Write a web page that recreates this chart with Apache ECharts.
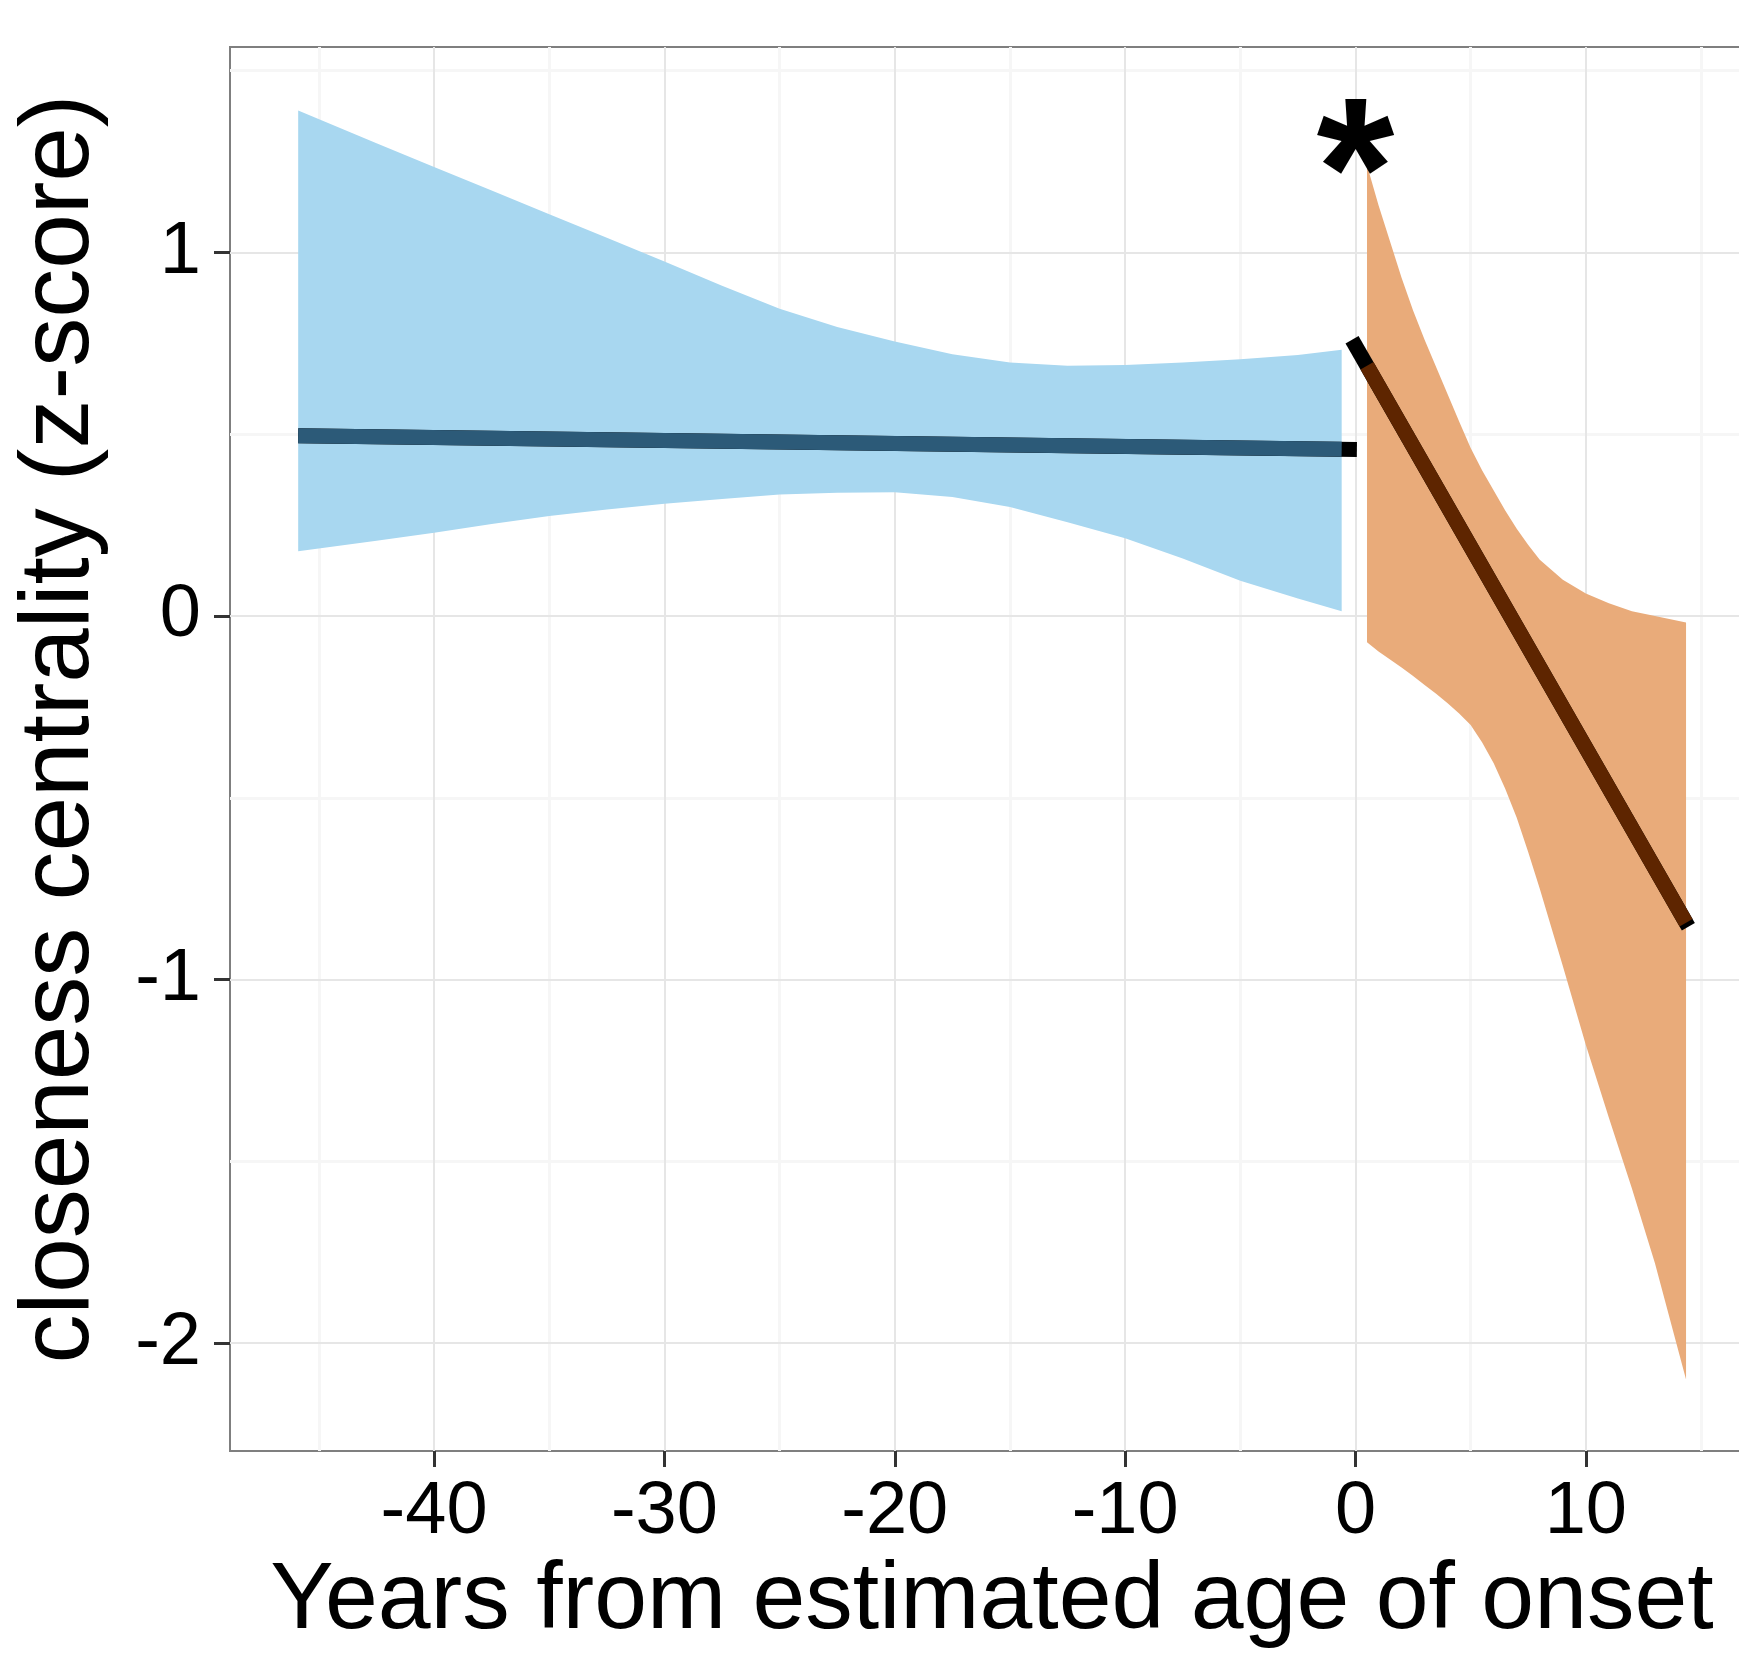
<!DOCTYPE html>
<html>
<head>
<meta charset="utf-8">
<script src="https://cdn.jsdelivr.net/npm/echarts@6/dist/echarts.min.js"></script>
<style>
  html, body { margin: 0; padding: 0; background: #fff; overflow: hidden; }
  #chart { width: 1770px; height: 1654px; }
</style>
</head>
<body>
<div id="chart"></div>
<script>
// Confidence band before onset (years from onset, upper / lower bound)
const preX     = [-45.9, -42.5, -40, -37.5, -35, -32.5, -30, -27.5, -25, -22.5, -20, -17.5, -15, -12.5, -10, -7.5, -5, -2.5, -0.6];
const preUpper = [1.39, 1.30, 1.235, 1.17, 1.105, 1.04, 0.975, 0.908, 0.845, 0.795, 0.755, 0.72, 0.697, 0.688, 0.69, 0.697, 0.706, 0.718, 0.732];
const preLower = [0.178, 0.207, 0.229, 0.253, 0.275, 0.293, 0.309, 0.322, 0.334, 0.339, 0.340, 0.327, 0.300, 0.258, 0.214, 0.158, 0.097, 0.048, 0.013];

// Confidence band after onset
const postX     = [0.5, 1, 1.5, 2, 2.5, 3, 3.5, 4, 4.5, 5, 5.5, 6, 6.5, 7, 7.5, 8, 9, 10, 11, 12, 13, 14.35];
const postUpper = [1.24, 1.13, 1.03, 0.93, 0.84, 0.76, 0.685, 0.61, 0.535, 0.462, 0.40, 0.345, 0.29, 0.24, 0.195, 0.155, 0.10, 0.062, 0.035, 0.013, 0.0, -0.018];
const postLower = [-0.072, -0.098, -0.12, -0.142, -0.165, -0.19, -0.214, -0.24, -0.268, -0.30, -0.348, -0.405, -0.475, -0.555, -0.65, -0.75, -0.963, -1.18, -1.38, -1.575, -1.78, -2.10];

// Fitted lines (dark underlay spans a little further than the coloured stroke)
const preFitX  = [-45.9, 0.06];
const preFitY  = [0.496, 0.458];
const preLineX = [-45.9, -0.6];
const preLineY = [0.496, 0.4585];
const postFitX  = [-0.15, 14.45];
const postFitY  = [0.76, -0.855];
const postLineX = [0.5, 14.35];
const postLineY = [0.688, -0.844];

// Significance marker
const starPos = [0, 1.325];

// Axis ticks and grid
const xTicks = [-40, -30, -20, -10, 0, 10];
const xMinor = [-45, -35, -25, -15, -5, 5, 15];
const yTicks = [-2, -1, 0, 1];
const yMinor = [-1.5, -0.5, 0.5, 1.5];

const FONT = "'Liberation Sans', Arial, Helvetica, sans-serif";
const pairs = (xs, ys) => xs.map((x, i) => [x, ys[i]]);

function bandSeries(xs, up, lo, color) {
  const data = xs.map((x, i) => [x, up[i], lo[i]]);
  return {
    type: 'custom',
    z: 3,
    silent: true,
    data: data,
    encode: { x: 0, y: [1, 2] },
    renderItem: function (params, api) {
      if (params.dataIndex !== 0) return null;
      const pts = [];
      for (let i = 0; i < data.length; i++) pts.push(api.coord([data[i][0], data[i][1]]));
      for (let i = data.length - 1; i >= 0; i--) pts.push(api.coord([data[i][0], data[i][2]]));
      return { type: 'polygon', shape: { points: pts }, style: { fill: color } };
    }
  };
}

function lineSeries(xs, ys, color, z) {
  return {
    type: 'line', z: z, silent: true, symbol: 'none',
    data: pairs(xs, ys),
    lineStyle: { color: color, width: 15, cap: 'butt' }
  };
}

const gridLines = [];
xMinor.forEach(v => gridLines.push({ xAxis: v, lineStyle: { color: '#F6F6F6', width: 3, type: 'solid' } }));
yMinor.forEach(v => gridLines.push({ yAxis: v, lineStyle: { color: '#F6F6F6', width: 3, type: 'solid' } }));
xTicks.forEach(v => gridLines.push({ xAxis: v, lineStyle: { color: '#E6E6E6', width: 2, type: 'solid' } }));
yTicks.forEach(v => gridLines.push({ yAxis: v, lineStyle: { color: '#E6E6E6', width: 2, type: 'solid' } }));

const chart = echarts.init(document.getElementById('chart'), null, { renderer: 'canvas' });
chart.setOption({
  animation: false,
  backgroundColor: '#ffffff',
  grid: {
    left: 230, top: 47, right: 16, bottom: 201,
    show: true, borderColor: '#7F7F7F', borderWidth: 2, backgroundColor: '#ffffff'
  },
  xAxis: {
    type: 'value', min: -48.86, max: 17.3,
    name: 'Years from estimated age of onset',
    nameLocation: 'middle', nameGap: 96,
    nameTextStyle: { fontFamily: FONT, fontSize: 95, color: '#000' },
    axisLine: { show: false, onZero: false },
    axisTick: { show: true, customValues: xTicks, length: 16, lineStyle: { color: '#333', width: 3 } },
    axisLabel: { customValues: xTicks, margin: 24, fontFamily: FONT, fontSize: 74, color: '#000' },
    splitLine: { show: false }
  },
  yAxis: {
    type: 'value', min: -2.297, max: 1.565,
    name: 'closeness centrality (z-score)',
    nameLocation: 'middle', nameGap: 120,
    nameTextStyle: { fontFamily: FONT, fontSize: 98, color: '#000', padding: [0, 0, 0, 40] },
    axisLine: { show: false, onZero: false },
    axisTick: { show: true, customValues: yTicks, length: 16, lineStyle: { color: '#333', width: 3 } },
    axisLabel: { customValues: yTicks, margin: 29, fontFamily: FONT, fontSize: 74, color: '#000' },
    splitLine: { show: false }
  },
  series: [
    {
      type: 'line', z: 1, silent: true, data: [],
      markLine: { z: 1, silent: true, symbol: 'none', label: { show: false }, animation: false, data: gridLines }
    },
    bandSeries(preX, preUpper, preLower, '#A8D7F0'),
    bandSeries(postX, postUpper, postLower, '#E9AB7A'),
    lineSeries(preFitX, preFitY, '#000000', 4),
    lineSeries(preLineX, preLineY, '#2C5A78', 5),
    lineSeries(postFitX, postFitY, '#000000', 4),
    lineSeries(postLineX, postLineY, '#5E2500', 5),
    {
      type: 'scatter', z: 6, silent: true, symbolSize: 1,
      itemStyle: { color: 'rgba(0,0,0,0)' },
      data: [starPos],
      label: {
        show: true, position: 'inside', formatter: '*',
        fontFamily: FONT, fontWeight: 'bold', fontSize: 200, color: '#000000',
        textBorderWidth: 0, opacity: 1, offset: [0, 48]
      }
    }
  ]
});
</script>
</body>
</html>
